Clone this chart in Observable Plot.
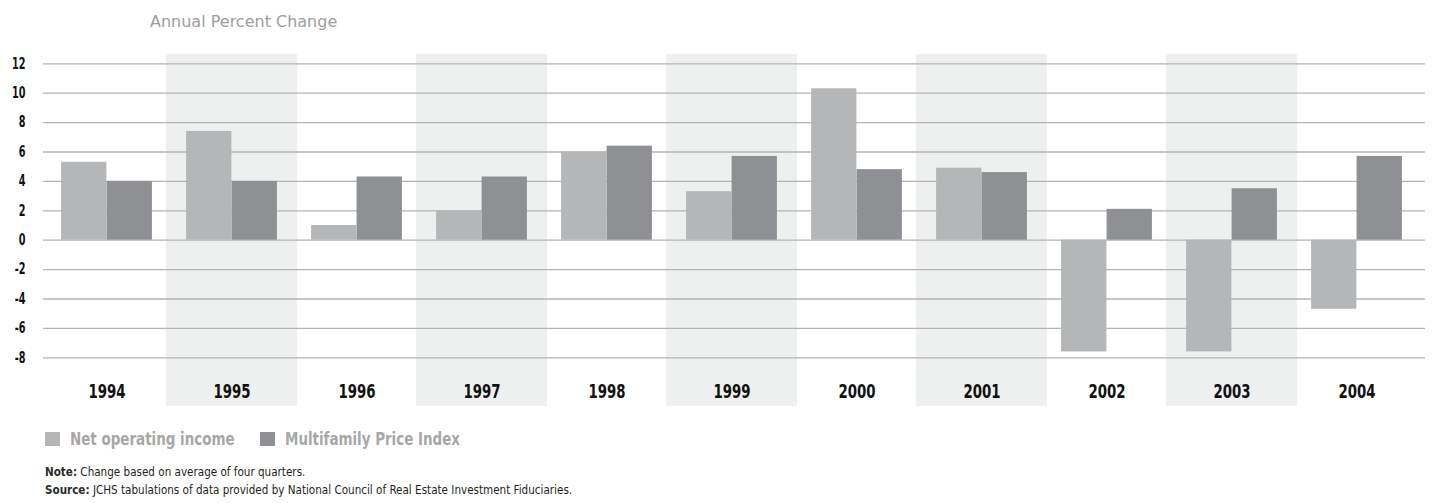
<!DOCTYPE html>
<html>
<head>
<meta charset="utf-8">
<script src="https://cdn.jsdelivr.net/npm/d3@7"></script>
<script src="https://cdn.jsdelivr.net/npm/@observablehq/plot@0.6"></script>
<style>
  html, body { margin: 0; padding: 0; background: #fff; }
  body { width: 1434px; height: 503px; position: relative; overflow: hidden;
         font-family: "DejaVu Sans Condensed", "DejaVu Sans", sans-serif; }
  #title { position: absolute; left: 150px; top: 12px; font-family: "DejaVu Sans", sans-serif; font-size: 16px; line-height: 20px; color: #9d9d9d; white-space: nowrap; }
  #chart { position: absolute; left: 0; top: 40px; }
  #legend { position: absolute; left: 45px; top: 429px; display: flex; align-items: center; font-size: 18px; font-weight: bold; color: #a7a7a7; line-height: 20px; white-space: nowrap; }
  #legend .item { display: flex; align-items: center; }
  #legend .sw { width: 15px; height: 14px; margin-right: 10px; flex: none; }
  #legend .lab { display: inline-block; transform: scaleX(0.83); transform-origin: left center; }
  #notes { position: absolute; left: 45px; top: 463px; font-size: 13px; line-height: 18px; color: #231f20; white-space: nowrap; transform: scaleX(0.89); transform-origin: left top; }
</style>
</head>
<body>
<div id="title"></div>
<div id="chart"></div>
<div id="legend"></div>
<div id="notes"></div>
<script>
const titleText = "Annual Percent Change";
const years = ["1994","1995","1996","1997","1998","1999","2000","2001","2002","2003","2004"];
const shadedYears = ["1995","1997","1999","2001","2003"];
const seriesNames = ["Net operating income", "Multifamily Price Index"];
const seriesColors = ["#b5b6b8", "#8f9094"];
const netOperatingIncome = [5.3, 7.4, 1.0, 2.0, 6.0, 3.3, 10.3, 4.9, -7.6, -7.6, -4.7];
const multifamilyPriceIndex = [4.0, 4.0, 4.3, 4.3, 6.4, 5.7, 4.8, 4.6, 2.1, 3.5, 5.7];
const yTicks = [-8, -6, -4, -2, 0, 2, 4, 6, 8, 10, 12];
const noteLabel = "Note:";
const noteText = " Change based on average of four quarters.";
const sourceLabel = "Source:";
const sourceText = " JCHS tabulations of data provided by National Council of Real Estate Investment Fiduciaries.";

const noi = years.map((y, i) => ({year: y, value: netOperatingIncome[i]}));
const mpi = years.map((y, i) => ({year: y, value: multifamilyPriceIndex[i]}));

document.getElementById("title").textContent = titleText;

const chart = Plot.plot({
  width: 1434,
  height: 375,
  marginTop: 23.3,
  marginBottom: 57.7,
  marginLeft: 43,
  marginRight: 14,
  style: {fontFamily: '"DejaVu Sans Condensed", "DejaVu Sans", sans-serif', fontWeight: "bold", background: "transparent"},
  x: {domain: years, padding: 0, label: null},
  y: {domain: [-8, 12], label: null},
  marks: [
    Plot.cell(shadedYears, {x: d => d, fill: "#eef0ef", insetLeft: -3, insetRight: -3, insetTop: -9.3, insetBottom: -48.7}),
    Plot.ruleY(yTicks, {stroke: "#b3b3b3", strokeWidth: 1.3, insetRight: -5}),
    Plot.barY(noi, {x: "year", y: "value", fill: seriesColors[0], insetLeft: 17.1, insetRight: 62.6}),
    Plot.barY(mpi, {x: "year", y: "value", fill: seriesColors[1], insetLeft: 62.6, insetRight: 17.1}),
    Plot.axisY({ticks: yTicks, tickSize: 0, tickPadding: 18, tickFormat: d => String(d), fontSize: 15, fill: "#111"}),
    Plot.axisX({tickSize: 0, tickPadding: 27, fontSize: 19, fill: "#111"})
  ]
});
document.getElementById("chart").appendChild(chart);

// condense the axis lettering horizontally (narrow display face)
function condense(selector, s) {
  chart.querySelectorAll(selector).forEach(t => {
    const xa = t.getAttribute("x"), ya = t.getAttribute("y");
    const x = xa !== null && isFinite(+xa) ? +xa : 0;
    const y = ya !== null && isFinite(+ya) ? +ya : 0;
    if (xa !== null && isFinite(+xa)) t.removeAttribute("x");
    if (ya !== null && isFinite(+ya)) t.removeAttribute("y");
    const tr = t.getAttribute("transform") || "";
    t.setAttribute("transform", `${tr} translate(${x},${y}) scale(${s},1)`);
  });
}
condense('g[aria-label="y-axis tick label"] text', 0.72);
condense('g[aria-label="x-axis tick label"] text', 0.78);

const legend = document.getElementById("legend");
seriesNames.forEach((name, i) => {
  const item = document.createElement("div");
  item.className = "item";
  item.style.width = i === 0 ? "215px" : "auto";
  const sw = document.createElement("div");
  sw.className = "sw";
  sw.style.background = seriesColors[i];
  const label = document.createElement("span");
  label.className = "lab";
  label.textContent = name;
  item.appendChild(sw);
  item.appendChild(label);
  legend.appendChild(item);
});

const notes = document.getElementById("notes");
[[noteLabel, noteText], [sourceLabel, sourceText]].forEach(([b, t]) => {
  const line = document.createElement("div");
  const s = document.createElement("span");
  s.style.fontWeight = "bold";
  s.style.color = "#2b2b2b";
  s.textContent = b;
  line.appendChild(s);
  line.appendChild(document.createTextNode(t));
  notes.appendChild(line);
});
</script>
</body>
</html>
